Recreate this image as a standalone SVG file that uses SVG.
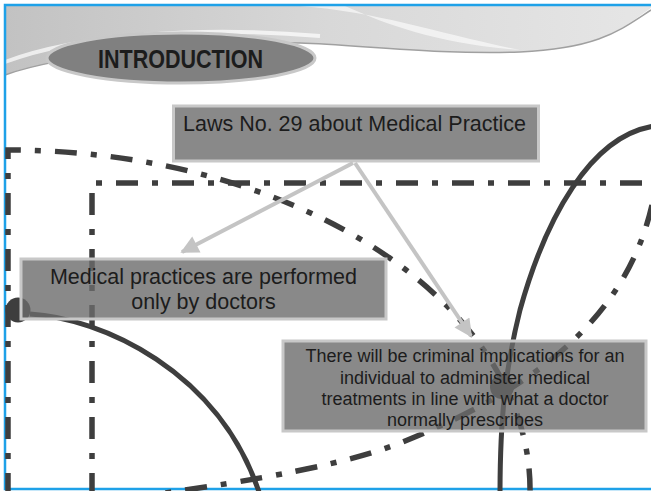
<svg xmlns="http://www.w3.org/2000/svg" width="651" height="491" viewBox="0 0 651 491">
<defs>
<linearGradient id="sw" x1="0" y1="0" x2="1" y2="0">
<stop offset="0" stop-color="#c2c2c2"/>
<stop offset="0.5" stop-color="#d8d8d8"/>
<stop offset="1" stop-color="#e6e6e6"/>
</linearGradient>
<marker id="ah" viewBox="0 0 10 10" refX="9" refY="5" markerWidth="5" markerHeight="4.5" orient="auto" markerUnits="strokeWidth">
<path d="M0,0 L10,5 L0,10 Z" fill="#c4c4c4"/>
</marker>
</defs>
<style>
.dd{fill:none;stroke:#3e3e3e;stroke-width:5.5;stroke-dasharray:22 14 6 14}
.sol{fill:none;stroke:#3e3e3e;stroke-width:5}
.box{fill:#6c6c6c;fill-opacity:0.8;stroke:#c8c8c8;stroke-width:3}
.arr{fill:none;stroke:#c4c4c4;stroke-width:4}
.t{font-family:"Liberation Sans",Arial,sans-serif;fill:#1c1c1c}
</style>
<rect x="0" y="0" width="651" height="491" fill="#ffffff"/>
<g id="swoosh">
<path d="M5,6 H651 V8 C620,30 600,48 520,52 C440,55 360,45 300,43 C200,40 60,55 5,75 Z" fill="url(#sw)"/>
<path d="M300,6 C380,12 440,34 520,50 C440,44 390,26 345,6 Z" fill="#ffffff" opacity="0.6"/>
<path d="M5,62 C80,34 200,26 320,36" fill="none" stroke="#ffffff" stroke-width="4" opacity="0.7"/>
<path d="M5,75 C60,55 200,40 300,43 C360,45 440,55 520,52 C600,48 620,30 651,10" fill="none" stroke="#a0a0a0" stroke-width="1.5"/>
</g>
<g id="frame">
<rect x="5" y="5" width="650" height="484" fill="none" stroke="#1ea1e8" stroke-width="2.5"/>
</g>
<g id="title">
<ellipse cx="181" cy="58" rx="134" ry="25" fill="#808080" stroke="#c8c8c8" stroke-width="3"/>
<text class="t" x="98" y="68" font-size="25" font-weight="bold" fill="#111" textLength="165" lengthAdjust="spacingAndGlyphs">INTRODUCTION</text>
</g>
<g id="connectors">
<path class="dd" d="M92,495 V183 H651"/>
<path class="dd" d="M8,495 V150 A522 340 0 0 1 530 495"/>
<path class="dd" d="M652,205 C630,300 560,380 400,443 C350,463 260,480 150,495"/>
<path class="sol" d="M30,314 C100,318 220,370 260,495"/>
<path class="sol" d="M655,126 C590,135 545,220 520,310 C505,370 500,420 500,495"/>
<circle cx="18" cy="310" r="12.5" fill="#3e3e3e"/>
<circle cx="502" cy="387" r="12" fill="#3e3e3e"/>
</g>
<g id="laws">
<rect class="box" x="173.5" y="106" width="365" height="55"/>
<text class="t" x="183" y="131" font-size="21.5">Laws No. 29 about Medical Practice</text>
</g>
<g id="medical">
<rect class="box" x="21" y="259" width="365" height="60"/>
<text class="t" x="203.5" y="284" font-size="21.5" text-anchor="middle">Medical practices are performed</text>
<text class="t" x="203.5" y="309" font-size="21.5" text-anchor="middle">only by doctors</text>
</g>
<g id="criminal">
<rect class="box" x="283" y="341" width="363" height="90"/>
<text class="t" x="465" y="362" font-size="18" text-anchor="middle">There will be criminal implications for an</text>
<text class="t" x="465" y="384" font-size="18" text-anchor="middle">individual to administer medical</text>
<text class="t" x="465" y="405" font-size="18" text-anchor="middle">treatments in line with what a doctor</text>
<text class="t" x="465" y="426" font-size="18" text-anchor="middle">normally prescribes</text>
</g>
<g id="arrows">
<path class="arr" d="M353,163 L182,252" marker-end="url(#ah)"/>
<path class="arr" d="M355,163 L471,336" marker-end="url(#ah)"/>
</g>
</svg>
